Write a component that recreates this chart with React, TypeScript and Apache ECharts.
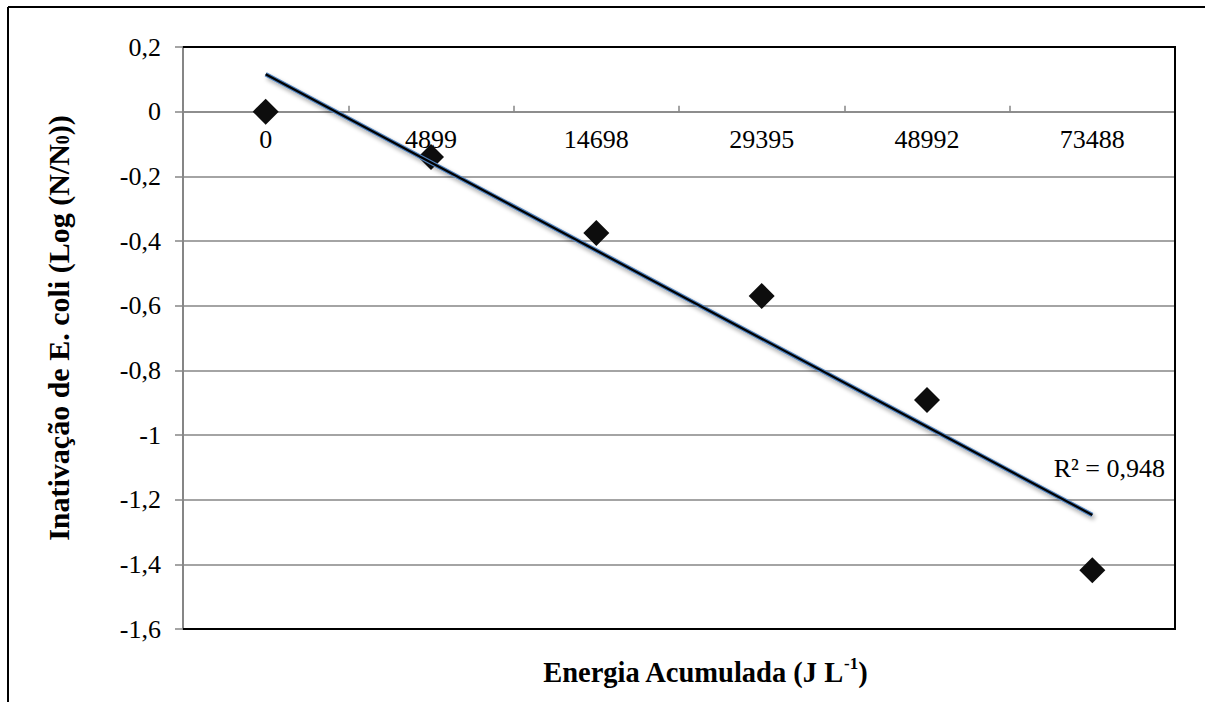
import React, { useEffect, useRef } from "react";
import * as echarts from "echarts";

const categories = ["0", "4899", "14698", "29395", "48992", "73488"];
const inactivation = [0, -0.14, -0.375, -0.57, -0.892, -1.418];
const r2Label = "R² = 0,948";
const yMin = -1.6;
const yMax = 0.2;
const yStep = 0.2;

// linear trendline (least squares on category index, as the spreadsheet does)
function trend(values: number[]): number[] {
  const n = values.length;
  const xs = values.map((_, i) => i + 1);
  const mx = xs.reduce((a, b) => a + b, 0) / n;
  const my = values.reduce((a, b) => a + b, 0) / n;
  let sxy = 0;
  let sxx = 0;
  for (let i = 0; i < n; i++) {
    sxy += (xs[i] - mx) * (values[i] - my);
    sxx += (xs[i] - mx) * (xs[i] - mx);
  }
  const slope = sxy / sxx;
  return xs.map((x) => my + slope * (x - mx));
}

const FONT = "'Liberation Serif', 'Times New Roman', serif";
const W = 1205;
const H = 702;
const GL = 183;
const GT = 47;
const GR = 30;
const GB = 73;

export default function App() {
  const ref = useRef<HTMLDivElement>(null);
  useEffect(() => {
    if (!ref.current) return;
    const chart = echarts.init(ref.current, undefined, { renderer: "svg" });
    const fit = trend(inactivation);
    const gridH = H - GT - GB;
    const zeroOffset = -gridH * (0 - yMin) / (yMax - yMin);
    chart.setOption({
      animation: false,
      backgroundColor: "#ffffff",
      textStyle: { fontFamily: FONT },
      grid: {
        left: GL,
        top: GT,
        right: GR,
        bottom: GB,
        show: false,
      },
      xAxis: {
        type: "category",
        data: categories,
        boundaryGap: true,
        position: "bottom",
        offset: zeroOffset,
        axisLine: { onZero: false, lineStyle: { color: "#868686", width: 1.5 } },
        axisTick: { show: true, inside: true, length: 6, lineStyle: { color: "#868686", width: 1.5 } },
        axisLabel: { color: "#000000", fontSize: 26, fontFamily: FONT, margin: 15 },
        splitLine: { show: false },
      },
      yAxis: {
        type: "value",
        min: yMin,
        max: yMax,
        interval: yStep,
        axisLine: { show: true, lineStyle: { color: "#868686", width: 2 } },
        axisTick: { show: true, length: 8, lineStyle: { color: "#868686", width: 1.5 } },
        axisLabel: {
          color: "#000000",
          fontSize: 26,
          fontFamily: FONT,
          margin: 22,
          formatter: (v: number) => String(Number(v.toFixed(1))).replace(".", ","),
        },
        splitLine: { show: true, lineStyle: { color: "#868686", width: 1.5 } },
      },
      series: [
        {
          type: "scatter",
          data: inactivation,
          symbol: "diamond",
          symbolSize: 26,
          itemStyle: { color: "#0d0d0d", opacity: 1 },
          z: 2,
        },
        {
          type: "line",
          data: fit,
          showSymbol: false,
          symbol: "none",
          lineStyle: {
            color: "#4F81BD",
            width: 4.5,
            shadowColor: "rgba(0,0,0,0.35)",
            shadowBlur: 4,
            shadowOffsetX: 2,
            shadowOffsetY: 3,
          },
          z: 3,
        },
        {
          type: "line",
          data: fit,
          showSymbol: false,
          symbol: "none",
          lineStyle: {
            color: "#000000",
            width: 2.2,
          },
          z: 4,
        },
      ],
      graphic: [
        {
          type: "line",
          shape: { x1: 8, y1: 7, x2: W, y2: 7 },
          style: { stroke: "#000000", lineWidth: 2 },
        },
        {
          type: "line",
          shape: { x1: 8, y1: 7, x2: 8, y2: H },
          style: { stroke: "#000000", lineWidth: 2 },
        },
        {
          type: "polyline",
          shape: {
            points: [
              [GL, GT],
              [W - GR, GT],
              [W - GR, H - GB],
              [GL, H - GB],
            ],
          },
          style: { stroke: "#000000", lineWidth: 2, fill: "none" },
          z: 20,
        },
        {
          type: "text",
          x: 1165,
          y: 468,
          style: {
            text: r2Label,
            fill: "#000000",
            fontSize: 26,
            fontFamily: FONT,
            align: "right",
            verticalAlign: "middle",
          },
          z: 10,
        },
        {
          type: "text",
          x: 705,
          y: 671,
          style: {
            text: "{b|Energia Acumulada (J L}{s|-1}{b|)}",
            fill: "#000000",
            align: "center",
            verticalAlign: "middle",
            rich: {
              b: { fontSize: 28.5, fontWeight: "bold", fontFamily: FONT, lineHeight: 32, verticalAlign: "bottom" },
              s: { fontSize: 17, fontWeight: "bold", fontFamily: FONT, lineHeight: 32, verticalAlign: "top", padding: [0, 0, 14, 0] },
            },
          },
          z: 10,
        },
        {
          type: "text",
          x: 58,
          y: 328,
          rotation: Math.PI / 2,
          style: {
            text: "{b|Inativação de E. coli (Log (N/N}{s|0}{b|))}",
            fill: "#000000",
            align: "center",
            verticalAlign: "middle",
            rich: {
              b: { fontSize: 30, fontWeight: "bold", fontFamily: FONT, lineHeight: 34 },
              s: { fontSize: 18, fontWeight: "bold", fontFamily: FONT, lineHeight: 34, padding: [10, 0, 0, 0] },
            },
          },
          z: 10,
        },
      ],
    });
    return () => chart.dispose();
  }, []);
  return (
    <div
      ref={ref}
      style={{ position: "fixed", left: 0, top: 0, width: W, height: H, background: "#fff" }}
    />
  );
}
